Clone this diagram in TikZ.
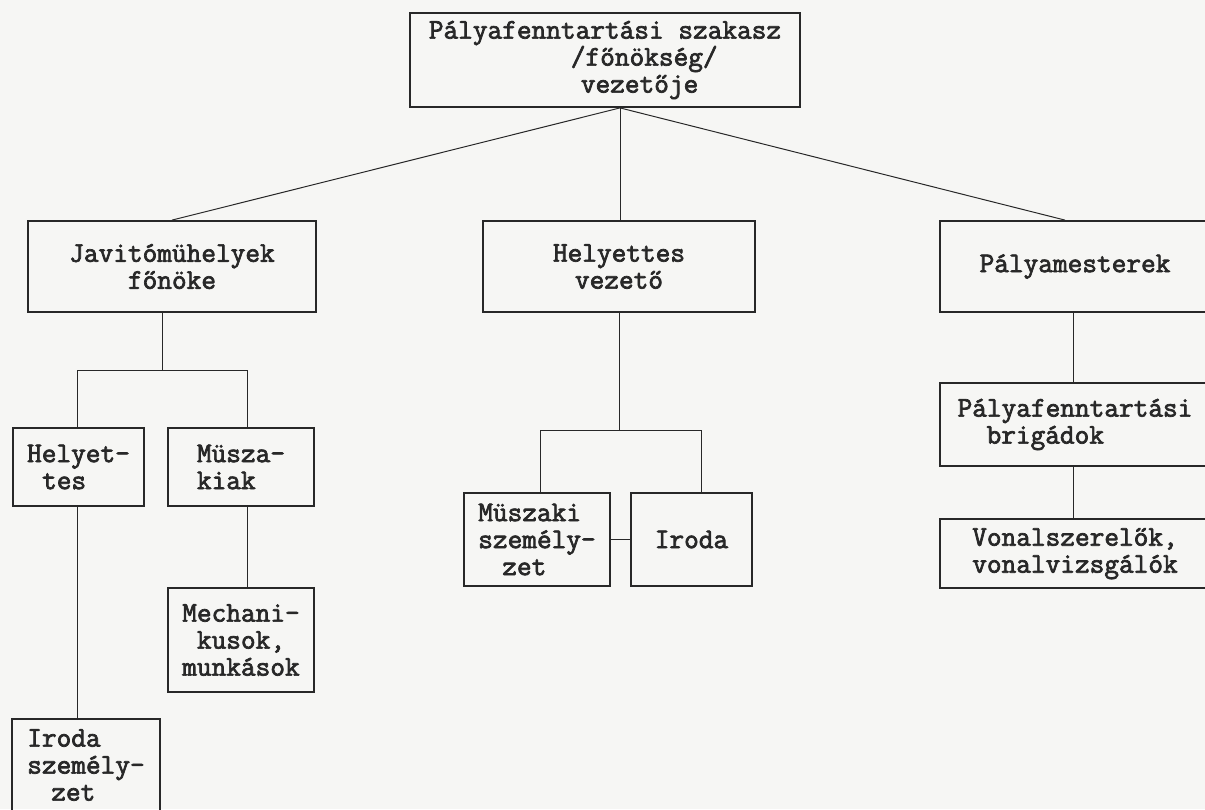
\documentclass[tikz,border=0pt]{standalone}
\usepackage{fontspec}
\newfontfamily\tw{Latin Modern Mono}[FakeBold=2.5]
\definecolor{ink}{RGB}{40,40,40}
\definecolor{paper}{RGB}{246,246,244}
\begin{document}
\begin{tikzpicture}[x=1pt,y=-1pt,
  box/.style={draw=ink, line width=1.8pt, inner sep=0pt, text=ink,
    font=\tw\fontsize{28.5}{27}\selectfont, align=center},
  leftbox/.style={box, align=left},
  link/.style={draw=ink, line width=1pt}]
\fill[paper] (0,0) rectangle (1205,809);
\useasboundingbox (0,0) rectangle (1205,809);
\clip (0,0) rectangle (1205,809);

\node[leftbox, minimum width=390pt, minimum height=94pt] (top) at (605,60)
  {Pályafenntartási szakasz\\\hspace*{142pt}/főnökség/\\\hspace*{152pt}vezetője};
\coordinate (hub) at ([xshift=15pt]top.south);

\node[box, minimum width=288pt, minimum height=91pt] (jav) at (172,266.5)
  {Javitómühelyek\\főnöke};
\node[box, minimum width=272pt, minimum height=91pt] (hv) at (619,266.5)
  {Helyettes\\vezető};
\node[box, minimum width=270pt, minimum height=91pt] (pm) at (1075,266.5)
  {Pályamesterek};

\node[leftbox, minimum width=131pt, minimum height=78pt] (hely) at (78.5,467)
  {Helyet-\\\hspace*{15pt}tes};
\node[leftbox, minimum width=146pt, minimum height=78pt] (musz) at (241,467)
  {Müsza-\\kiak};
\node[box, minimum width=146pt, minimum height=104pt] (mech) at (241,640)
  {Mechani-\\kusok,\\munkások};
\node[leftbox, minimum width=148pt, minimum height=92pt] (iroda1) at (86,765)
  {Iroda\\személy-\\\hspace*{24pt}zet};

\node[leftbox, minimum width=146pt, minimum height=93pt] (mszem) at (537,539.5)
  {Müszaki\\személy-\\\hspace*{24pt}zet};
\node[box, minimum width=121pt, minimum height=93pt] (iroda2) at (691.5,539.5)
  {Iroda};

\node[leftbox, minimum width=270pt, minimum height=83pt] (brig) at (1075,424.5)
  {Pályafenntartási\\\hspace*{29pt}brigádok};
\node[leftbox, minimum width=270pt, minimum height=69pt] (von) at (1075,553.5)
  {Vonalszerelők,\\vonalvizsgálók};

% connectors
\draw[link] (hub) -- (jav.north);
\draw[link] (hub) -- (hub |- hv.north);
\draw[link] (hub) -- ([xshift=-10pt]pm.north);

\draw[link] ([xshift=-10pt]jav.south) -- ++(0,58) coordinate (jb);
\draw[link] ([xshift=-1.5pt]hely.north) |- (jb) -| ([xshift=6pt]musz.north);
\draw[link] ([xshift=6pt]musz.south) -- ([xshift=6pt]mech.north);
\draw[link] ([xshift=-1.5pt]hely.south) -- ([xshift=-1.5pt]hely.south |- iroda1.north);

\draw[link] (hv.south) -- ++(0,118) coordinate (hb);
\draw[link] ([xshift=3pt]mszem.north) |- (hb) -| ([xshift=10pt]iroda2.north);
\draw[link] (mszem.east) -- (iroda2.west);

\draw[link] ([xshift=-2pt]pm.south) -- ([xshift=-2pt]brig.north);
\draw[link] ([xshift=-2pt]brig.south) -- ([xshift=-2pt]von.north);
\end{tikzpicture}
\end{document}
